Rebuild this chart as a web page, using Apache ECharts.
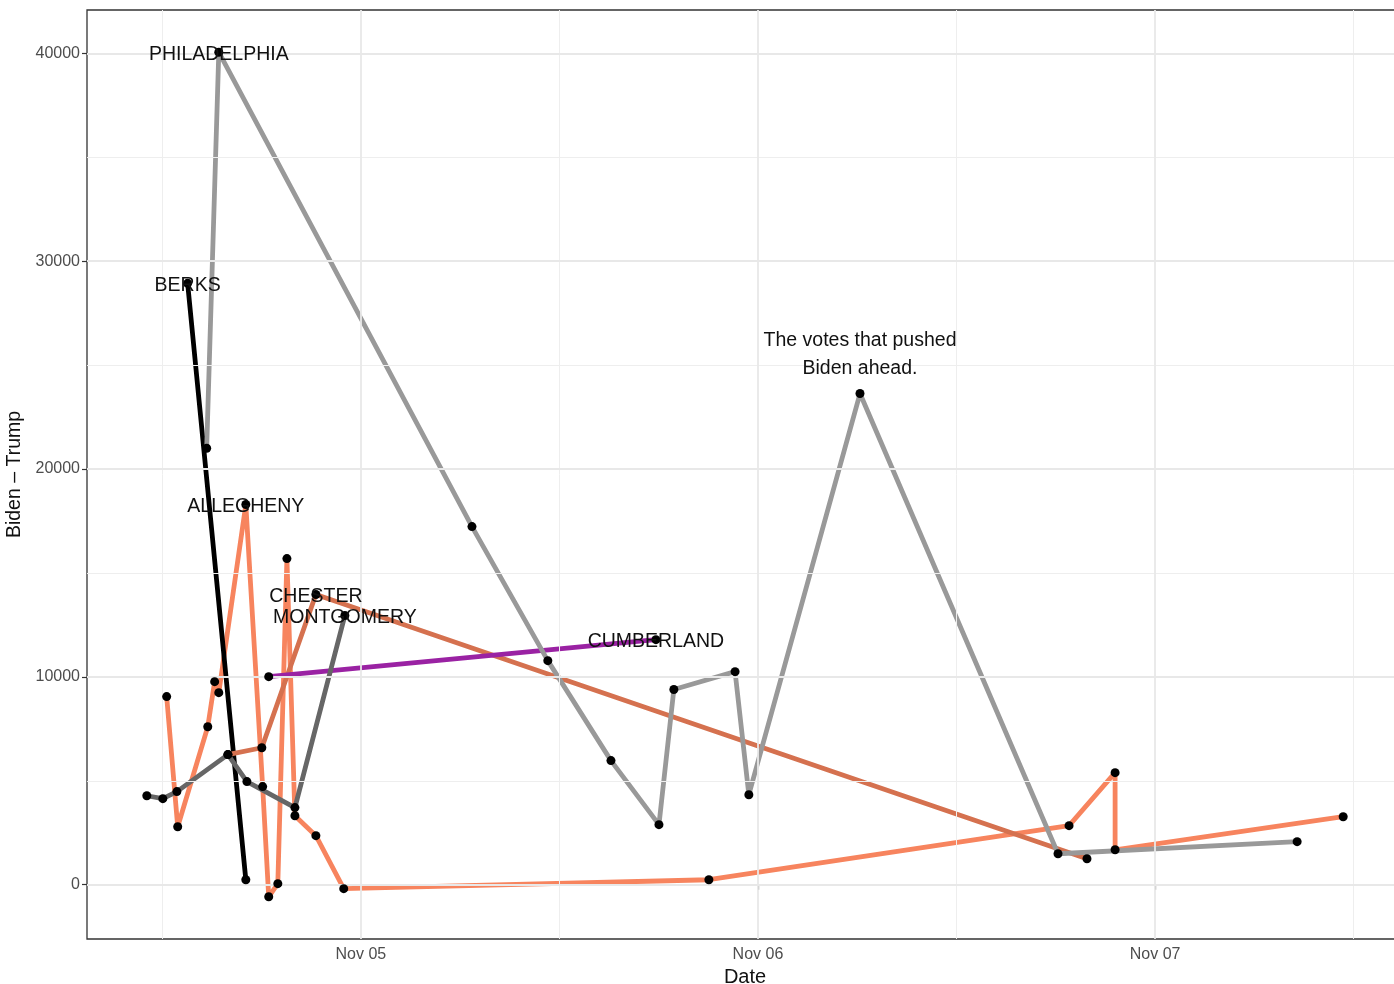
<!DOCTYPE html>
<html>
<head>
<meta charset="utf-8">
<script src="https://cdn.jsdelivr.net/npm/echarts@6/dist/echarts.min.js"></script>
<style>
html,body{margin:0;padding:0;background:#fff;}
#chart{width:1394px;height:984px;}
</style>
</head>
<body>
<div id="chart"></div>
<script>
// ---- data ----
const countyNames = ['ALLEGHENY', 'BERKS', 'CHESTER', 'CUMBERLAND', 'MONTGOMERY', 'PHILADELPHIA'];

const alleghenyTimes = ['2020-11-04 12:16','2020-11-04 12:56','2020-11-04 14:45','2020-11-04 15:10','2020-11-04 15:25','2020-11-04 17:03','2020-11-04 18:04','2020-11-04 18:26','2020-11-04 18:59','2020-11-04 19:32','2020-11-04 20:01','2020-11-04 21:17','2020-11-04 22:58','2020-11-05 21:02','2020-11-06 18:48','2020-11-06 21:35','2020-11-06 21:35','2020-11-07 11:22'];
const alleghenyValues = [9050, 2790, 7600, 9770, 9240, 18290, 4720, -580, 50, 15690, 3320, 2360, -190, 240, 2840, 5390, 1680, 3270];

const berksTimes = ['2020-11-04 13:32','2020-11-04 17:03'];
const berksValues = [28930, 240];

const chesterTimes = ['2020-11-04 15:58','2020-11-04 18:01','2020-11-04 21:17','2020-11-06 19:53'];
const chesterValues = [6260, 6590, 13960, 1250];

const cumberlandTimes = ['2020-11-04 18:26','2020-11-05 17:50'];
const cumberlandValues = [10010, 11790];

const montgomeryTimes = ['2020-11-04 11:04','2020-11-04 12:02','2020-11-04 12:53','2020-11-04 15:58','2020-11-04 17:07','2020-11-04 20:01','2020-11-04 23:02'];
const montgomeryValues = [4280, 4140, 4480, 6260, 4960, 3710, 12950];

const philadelphiaTimes = ['2020-11-04 14:41','2020-11-04 15:25','2020-11-05 06:43','2020-11-05 11:18','2020-11-05 15:07','2020-11-05 18:01','2020-11-05 18:55','2020-11-05 22:37','2020-11-05 23:27','2020-11-06 06:10','2020-11-06 18:08','2020-11-07 08:35'];
const philadelphiaValues = [21000, 40050, 17230, 10780, 5970, 2890, 9390, 10250, 4330, 23630, 1490, 2070];

const xTickDates = ['2020-11-05 00:00','2020-11-06 00:00','2020-11-07 00:00'];
const xMinorDates = ['2020-11-04 12:00','2020-11-05 12:00','2020-11-06 12:00','2020-11-07 12:00'];
const yTickValues = [0, 10000, 20000, 30000, 40000];
const yMinorValues = [5000, 15000, 25000, 35000];

const annotationText = 'The votes that pushed\nBiden ahead.';
const annotationTime = '2020-11-06 06:10';
const annotationValue = 25600;

const xAxisTitle = 'Date';
const yAxisTitle = 'Biden – Trump';

// ---- build ----
function toMs(s){ return Date.parse(s.replace(' ', 'T') + ':00Z'); }
const MONTHS = ['Jan','Feb','Mar','Apr','May','Jun','Jul','Aug','Sep','Oct','Nov','Dec'];
function fmtDate(v){
  const d = new Date(v);
  const dd = String(d.getUTCDate()).padStart(2,'0');
  return MONTHS[d.getUTCMonth()] + ' ' + dd;
}

const seriesTimes = [alleghenyTimes, berksTimes, chesterTimes, cumberlandTimes, montgomeryTimes, philadelphiaTimes];
const seriesValues = [alleghenyValues, berksValues, chesterValues, cumberlandValues, montgomeryValues, philadelphiaValues];
const colors = ['#F7845E', '#000000', '#D5714F', '#9A22A3', '#666666', '#999999'];

const pairs = seriesTimes.map((ts, i) => ts.map((t, j) => [toMs(t), seriesValues[i][j]]));

let allX = [], allY = [];
pairs.forEach(p => p.forEach(d => { allX.push(d[0]); allY.push(d[1]); }));
const xLo = Math.min(...allX), xHi = Math.max(...allX);
const yLo = Math.min(...allY), yHi = Math.max(...allY);
const xMin = xLo - 0.05 * (xHi - xLo), xMax = xHi + 0.05 * (xHi - xLo);
const yMin = yLo - 0.05 * (yHi - yLo), yMax = yHi + 0.05 * (yHi - yLo);

const xTicks = xTickDates.map(toMs);
const xMinor = xMinorDates.map(toMs).filter(v => v > xMin && v < xMax);

const gridLineData = [];
xMinor.forEach(v => gridLineData.push({xAxis: v, lineStyle: {color: '#EEEEEE', width: 1, type: 'solid'}}));
yMinorValues.forEach(v => gridLineData.push({yAxis: v, lineStyle: {color: '#EEEEEE', width: 1, type: 'solid'}}));
xTicks.forEach(v => gridLineData.push({xAxis: v, lineStyle: {color: '#E8E8E8', width: 1.8, type: 'solid'}}));
yTickValues.forEach(v => gridLineData.push({yAxis: v, lineStyle: {color: '#E8E8E8', width: 1.8, type: 'solid'}}));

const series = [];
series.push({
  type: 'line', name: 'grid', z: 1, silent: true, showSymbol: false,
  data: [[xMin, yMin]], lineStyle: {opacity: 0},
  markLine: {silent: true, symbol: ['none','none'], label: {show: false}, animation: false,
    emphasis: {disabled: true}, data: gridLineData}
});
pairs.forEach((p, i) => {
  series.push({
    type: 'line', name: countyNames[i], z: 3 + i * 0.01, data: p,
    showSymbol: false, symbol: 'none',
    lineStyle: {color: colors[i], width: 4.8, cap: 'round', join: 'round'},
    itemStyle: {color: colors[i]}, emphasis: {disabled: true}
  });
});
let allPts = [];
pairs.forEach(p => p.forEach(d => allPts.push(d)));
series.push({
  type: 'scatter', name: 'points', z: 5, data: allPts, symbolSize: 9,
  itemStyle: {color: '#000', opacity: 1}, emphasis: {disabled: true}
});
const labelData = pairs.map((p, i) => {
  let best = p[0];
  p.forEach(d => { if (d[1] > best[1]) best = d; });
  return {value: best, name: countyNames[i]};
});
series.push({
  type: 'scatter', name: 'labels', z: 6, data: labelData, symbolSize: 2,
  itemStyle: {color: 'rgba(0,0,0,0)', opacity: 1}, emphasis: {disabled: true},
  label: {show: true, position: 'inside', offset: [0, 2], formatter: p => p.name, fontSize: 19.5,
    color: '#111', opacity: 1, textBorderWidth: 0, fontFamily: 'Liberation Sans'}
});
series.push({
  type: 'scatter', name: 'annotation', z: 6,
  data: [{value: [toMs(annotationTime), annotationValue], name: annotationText}],
  symbolSize: 2, itemStyle: {color: 'rgba(0,0,0,0)', opacity: 1}, emphasis: {disabled: true},
  label: {show: true, position: 'inside', offset: [0, 2], formatter: p => p.name, fontSize: 19.5,
    lineHeight: 28, align: 'center', color: '#111', opacity: 1, textBorderWidth: 0,
    fontFamily: 'Liberation Sans'}
});

const chart = echarts.init(document.getElementById('chart'), null, {renderer: 'canvas'});
chart.setOption({
  animation: false,
  backgroundColor: '#ffffff',
  grid: {left: 87, top: 10, right: -9, bottom: 45, show: true, borderColor: '#333333',
    borderWidth: 1.3, backgroundColor: '#ffffff', containLabel: false, outerBoundsMode: 'none'},
  xAxis: {
    type: 'value', min: xMin, max: xMax,
    name: xAxisTitle, nameLocation: 'middle', nameGap: 28,
    nameTextStyle: {fontSize: 20, color: '#111', fontFamily: 'Liberation Sans'},
    axisLine: {show: false},
    axisTick: {show: true, customValues: xTicks, length: 5, lineStyle: {color: '#333', width: 1.2}},
    axisLabel: {customValues: xTicks, formatter: fmtDate, fontSize: 16, color: '#4d4d4d',
      margin: 8, fontFamily: 'Liberation Sans'},
    splitLine: {show: false}
  },
  yAxis: {
    type: 'value', min: yMin, max: yMax,
    name: yAxisTitle, nameLocation: 'middle', nameGap: 54, nameRotate: 90,
    nameTextStyle: {fontSize: 19.5, color: '#111', fontFamily: 'Liberation Sans'},
    axisLine: {show: false},
    axisTick: {show: true, customValues: yTickValues, length: 5, lineStyle: {color: '#333', width: 1.2}},
    axisLabel: {customValues: yTickValues, formatter: v => String(Math.round(v)), fontSize: 16,
      color: '#4d4d4d', margin: 7, fontFamily: 'Liberation Sans'},
    splitLine: {show: false}
  },
  series: series
});
</script>
</body>
</html>
